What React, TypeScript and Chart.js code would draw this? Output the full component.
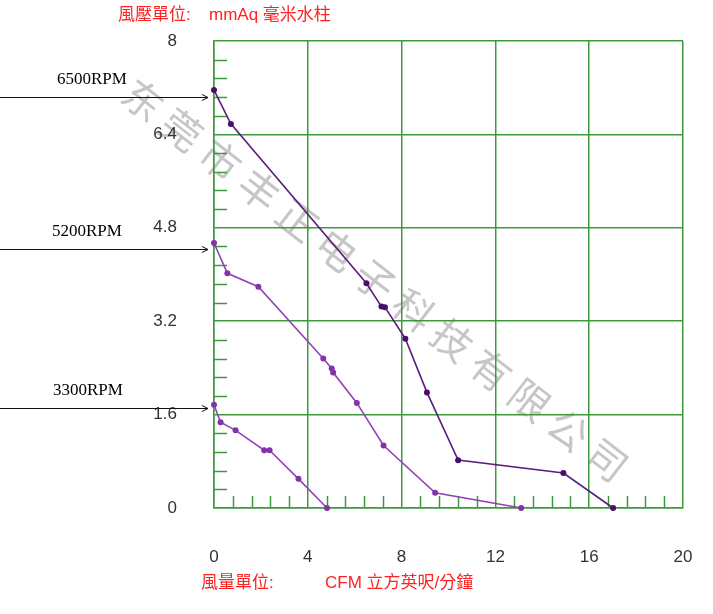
import { useEffect, useRef } from 'react';
import { Chart, registerables } from 'chart.js';

Chart.register(...registerables);

// ---- axis ticks ----
const X_TICKS = [0, 4, 8, 12, 16, 20];
const Y_TICKS = [0, 1.6, 3.2, 4.8, 6.4, 8];
const X_MINOR_STEP = 0.8;
const Y_MINOR_STEP = 0.32;

// ---- series (CFM, mmAq) ----
const rpm6500X = [0, 0.72, 6.5, 7.14, 7.29, 8.16, 9.08, 10.41, 14.9, 17.02];
const rpm6500Y = [7.16, 6.58, 3.85, 3.45, 3.44, 2.9, 1.98, 0.82, 0.6, 0];

const rpm5200X = [0, 0.57, 1.89, 4.66, 5.02, 5.08, 6.09, 7.23, 9.43, 13.1];
const rpm5200Y = [4.54, 4.02, 3.79, 2.56, 2.39, 2.32, 1.8, 1.07, 0.26, 0];

const rpm3300X = [0, 0.28, 0.92, 2.14, 2.37, 3.6, 4.82];
const rpm3300Y = [1.77, 1.47, 1.33, 0.99, 0.99, 0.5, 0];

// ---- annotations ----
const SERIES_LABELS = ['6500RPM', '5200RPM', '3300RPM'];
const ARROW_Y = [7.04, 4.43, 1.71];
const Y_UNIT_LABEL = '風壓單位:';
const Y_UNIT_TEXT = 'mmAq 毫米水柱';
const X_UNIT_LABEL = '風量單位:';
const X_UNIT_TEXT = 'CFM 立方英呎/分鐘';
const WATERMARK = '东莞市丰正电子科技有限公司';

const GRID = '#3c9a3c';
const DARK_PURPLE = '#5a1d7e';
const LIGHT_PURPLE = '#9242b6';

const toPoints = (xs: number[], ys: number[]) => xs.map((x, i) => ({ x, y: ys[i] }));
const fmt = (v: number) => String(+Number(v).toFixed(2));

const decorPlugin = {
  id: 'decor',
  beforeDraw(chart: any) {
    const ctx = chart.ctx;
    ctx.save();
    ctx.fillStyle = '#ffffff';
    ctx.fillRect(0, 0, chart.width, chart.height);
    // watermark
    ctx.fillStyle = '#c6c6c6';
    ctx.font = '40px "Noto Sans CJK SC"';
    ctx.textAlign = 'center';
    ctx.textBaseline = 'middle';
    const chars = Array.from(WATERMARK);
    const x0 = 143, y0 = 100, x1 = 607, y1 = 460;
    const ang = Math.atan2(y1 - y0, x1 - x0);
    chars.forEach((c, i) => {
      const t = i / (chars.length - 1);
      ctx.save();
      ctx.translate(x0 + (x1 - x0) * t, y0 + (y1 - y0) * t);
      ctx.rotate(ang);
      ctx.fillText(c, 0, 0);
      ctx.restore();
    });
    ctx.restore();
  },
  beforeDatasetsDraw(chart: any) {
    const ctx = chart.ctx;
    const xs = chart.scales.x;
    const ys = chart.scales.y;
    const area = chart.chartArea;
    ctx.save();
    ctx.strokeStyle = GRID;
    ctx.lineWidth = 1.5;
    ctx.beginPath();
    for (let k = 1; k * Y_MINOR_STEP < ys.max - 1e-6; k++) {
      const v = k * Y_MINOR_STEP;
      if (Y_TICKS.some((t) => Math.abs(t - v) < 1e-6)) continue;
      const py = Math.round(ys.getPixelForValue(v)) + 0.5;
      ctx.moveTo(area.left, py);
      ctx.lineTo(area.left + 13, py);
    }
    for (let k = 1; k * X_MINOR_STEP < xs.max - 1e-6; k++) {
      const v = k * X_MINOR_STEP;
      if (X_TICKS.some((t) => Math.abs(t - v) < 1e-6)) continue;
      const px = Math.round(xs.getPixelForValue(v)) + 0.5;
      ctx.moveTo(px, area.bottom);
      ctx.lineTo(px, area.bottom - 12);
    }
    ctx.stroke();
    ctx.restore();
  },
  afterDraw(chart: any) {
    const ctx = chart.ctx;
    const ys = chart.scales.y;
    const area = chart.chartArea;
    ctx.save();
    // unit labels
    ctx.fillStyle = '#ff2222';
    ctx.textBaseline = 'middle';
    ctx.textAlign = 'left';
    ctx.font = '17px "Liberation Sans", "Noto Sans CJK TC"';
    ctx.fillText(Y_UNIT_LABEL, 118, 15);
    ctx.fillText(Y_UNIT_TEXT, 209, 15);
    ctx.fillText(X_UNIT_LABEL, 201, 583);
    ctx.fillText(X_UNIT_TEXT, 325, 583);
    // RPM arrows
    const labelX = [57, 52, 53];
    ctx.strokeStyle = '#111111';
    ctx.fillStyle = '#000000';
    ctx.lineWidth = 1;
    ctx.font = '17px "Liberation Serif"';
    SERIES_LABELS.forEach((lab, i) => {
      const py = Math.round(ys.getPixelForValue(ARROW_Y[i])) + 0.5;
      const tip = area.left - 6;
      ctx.beginPath();
      ctx.moveTo(0, py);
      ctx.lineTo(tip, py);
      ctx.moveTo(tip - 6, py - 3);
      ctx.lineTo(tip, py);
      ctx.lineTo(tip - 6, py + 3);
      ctx.stroke();
      ctx.fillText(lab, labelX[i], py - 18);
    });
    ctx.restore();
  },
};

const zeroPad = (s: any) => {
  s.paddingLeft = 0;
  s.paddingRight = 0;
  s.paddingTop = 0;
  s.paddingBottom = 0;
};

export default function App() {
  const ref = useRef<HTMLCanvasElement | null>(null);

  useEffect(() => {
    if (!ref.current) return;
    const tickFont = { size: 17, family: '"Liberation Sans", Arial, sans-serif' };
    const mkSet = (xs: number[], ys: number[], line: string, pt: string) => ({
      data: toPoints(xs, ys),
      showLine: true,
      borderColor: line,
      backgroundColor: pt,
      borderWidth: 1.6,
      pointRadius: 3,
      pointBorderWidth: 0,
      pointBackgroundColor: pt,
      clip: false as any,
    });
    const chart = new Chart(ref.current, {
      type: 'scatter',
      data: {
        datasets: [
          mkSet(rpm6500X, rpm6500Y, DARK_PURPLE, '#4a0d6c'),
          mkSet(rpm5200X, rpm5200Y, LIGHT_PURPLE, '#8232aa'),
          mkSet(rpm3300X, rpm3300Y, LIGHT_PURPLE, '#8232aa'),
        ],
      },
      options: {
        responsive: false,
        animation: false,
        devicePixelRatio: 1,
        layout: { padding: { left: 0, right: 30, top: 41, bottom: 0 } },
        plugins: { legend: { display: false }, tooltip: { enabled: false } },
        scales: {
          x: {
            type: 'linear',
            min: 0,
            max: 20,
            afterBuildTicks: (s: any) => {
              s.ticks = X_TICKS.map((value) => ({ value }));
            },
            afterFit: (s: any) => {
              s.height = 106;
              zeroPad(s);
            },
            grid: { color: GRID, lineWidth: 1.5, drawTicks: false },
            border: { color: GRID, width: 1.5 },
            ticks: {
              padding: 39,
              color: '#333333',
              font: tickFont,
              maxRotation: 0,
              autoSkip: false,
              callback: (v: any) => fmt(v),
            },
          },
          y: {
            type: 'linear',
            min: 0,
            max: 8,
            afterBuildTicks: (s: any) => {
              s.ticks = Y_TICKS.map((value) => ({ value }));
            },
            afterFit: (s: any) => {
              s.width = 214;
              zeroPad(s);
            },
            grid: { color: GRID, lineWidth: 1.5, drawTicks: false },
            border: { color: GRID, width: 1.5 },
            ticks: {
              padding: 37,
              color: '#333333',
              font: tickFont,
              autoSkip: false,
              callback: (v: any) => fmt(v),
            },
          },
        },
      },
      plugins: [decorPlugin],
    } as any);
    return () => chart.destroy();
  }, []);

  return (
    <div style={{ position: 'absolute', left: 0, top: 0, width: 713, height: 614 }}>
      <canvas ref={ref} width={713} height={614} style={{ display: 'block' }} />
    </div>
  );
}
